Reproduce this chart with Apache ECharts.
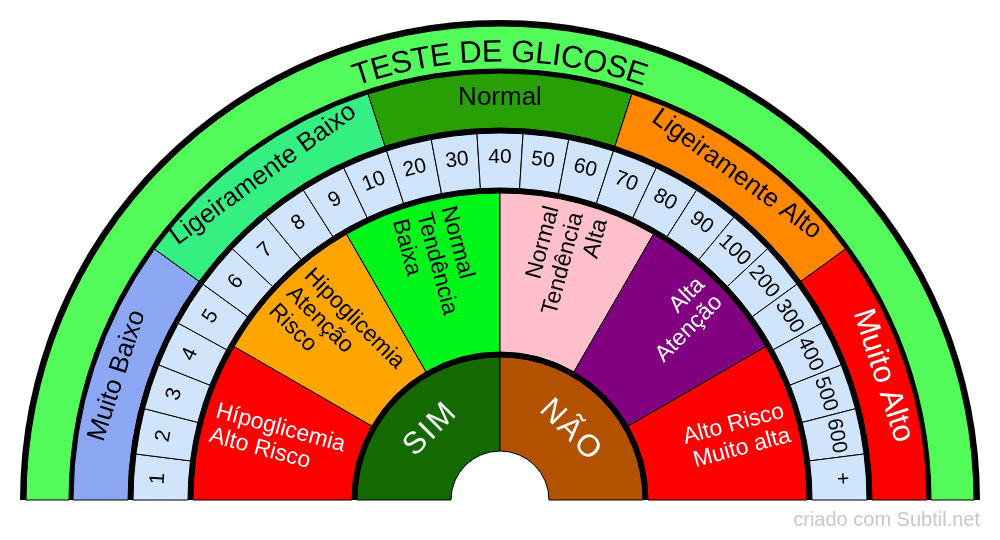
<!DOCTYPE html>
<html><head><meta charset="utf-8">
<script src="https://cdn.jsdelivr.net/npm/echarts@6/dist/echarts.min.js"></script>
<style>html,body{margin:0;padding:0;background:#fff}#chart{width:1000px;height:540px}</style>
</head><body><div id="chart"></div>
<script>
// ---- data ----
const titleText = 'TESTE DE GLICOSE';
const rangeLabels = ['Muito Baixo', 'Ligeiramente Baixo', 'Normal', 'Ligeiramente Alto', 'Muito Alto'];
const rangeSpans = [5, 5, 5, 5, 5];
const levelLabels = ['1','2','3','4','5','6','7','8','9','10','20','30','40','50','60','70','80','90','100','200','300','400','500','600','+'];
const levelValues = [1,1,1,1,1,1,1,1,1,1,1,1,1,1,1,1,1,1,1,1,1,1,1,1,1];
const riskLabels = ['Hípoglicemia\nAlto Risco', 'Hipoglicemia\nAtenção\nRisco', 'Normal\nTendência\nBaixa', 'Normal\nTendência\nAlta', 'Alta\nAtenção', 'Alto Risco\nMuito alta'];
const riskValues = [1, 1, 1, 1, 1, 1];
const answerLabels = ['SIM', 'NÃO'];
const answerValues = [1, 1];

// ---- styles ----
const FONT = '"Liberation Sans", Arial, sans-serif';
const CENTER = [500, 500];
const R_OUT = 480;
const titleColor = '#52FA5A';
const rangeColors = ['#8CA8F5', '#34F082', '#28A005', '#FF8800', '#FF0000'];
const rangeTextColors = ['#000', '#000', '#000', '#000', '#fff'];
const rangeFontSizes = [26, 26, 26, 26, 31];
const levelColor = '#D0E4FC';
const riskColors = ['#FF0000', '#FFA500', '#00F519', '#FFC0CB', '#800080', '#FF0000'];
const riskTextColors = ['#fff', '#000', '#000', '#000', '#fff', '#fff'];
const answerColors = ['#146A00', '#B25200'];

const TITLE_FONT = 31, TITLE_R = 447;
const RISK_LABEL_R = 297;

function ring(id, names, values, colors, r0, r1, label, z) {
  return {
    type: 'pie', id: id, center: CENTER, radius: [r0, r1],
    startAngle: 180, endAngle: 0, clockwise: true,
    silent: true, animation: false, z: z,
    itemStyle: { borderColor: '#000', borderWidth: 1 },
    label: label, labelLine: { show: false }, emphasis: { disabled: true },
    data: names.map((n, i) => ({
      name: n, value: values[i],
      itemStyle: { color: Array.isArray(colors) ? colors[i] : colors }
    }))
  };
}

// title characters laid along the arc
const mctx = document.createElement('canvas').getContext('2d');
mctx.font = TITLE_FONT + 'px ' + FONT;
const titleChars = titleText.split('');
const charW = titleChars.map(c => mctx.measureText(c).width);
const totalW = charW.reduce((a, b) => a + b, 0);
let acc = 0;
const titleData = titleChars.map((c, i) => {
  const s = acc + charW[i] / 2 - totalW / 2;
  acc += charW[i];
  return { name: c, value: [TITLE_R, 90 + s / TITLE_R * 180 / Math.PI] };
});

// risk label anchors
const riskTotal = riskValues.reduce((a, b) => a + b, 0);
let cum = 0;
const riskData = riskLabels.map((t, i) => {
  const mid = (cum + riskValues[i] / 2) / riskTotal * 180;
  cum += riskValues[i];
  return { name: t, value: [RISK_LABEL_R, mid] };
});

const chart = echarts.init(document.getElementById('chart'), null, { renderer: 'canvas' });
chart.setOption({
  animation: false,
  backgroundColor: '#fff',
  title: {
    text: 'criado com Subtil.net', right: 20, bottom: 10, padding: 0,
    textStyle: { color: '#c8c8c8', fontSize: 20, fontWeight: 'normal', fontFamily: FONT }
  },
  polar: { center: CENTER, radius: R_OUT },
  angleAxis: { type: 'value', min: 0, max: 360, startAngle: 180, clockwise: true, show: false },
  radiusAxis: { type: 'value', min: 0, max: R_OUT, show: false },
  series: [
    {
      type: 'pie', id: 'bg', center: CENTER, radius: [49, R_OUT],
      startAngle: 180, endAngle: 0, silent: true, animation: false, z: 1,
      label: { show: false }, labelLine: { show: false }, emphasis: { disabled: true },
      itemStyle: { color: '#000', borderWidth: 0 },
      data: [{ name: 'bg', value: 1 }]
    },
    ring('title', ['title'], [1], titleColor, 431, 474, { show: false }, 2),
    ring('range', rangeLabels, rangeSpans, rangeColors, 372, 427, {
      show: true, position: 'inside', rotate: 'tangential', fontFamily: FONT,
      formatter: p => p.name
    }, 2),
    ring('level', levelLabels, levelValues, levelColor, 312, 367, {
      show: true, position: 'inside', rotate: 'tangential', fontFamily: FONT,
      fontSize: 21, color: '#000', formatter: p => p.name
    }, 2),
    ring('risk', riskLabels, riskValues, riskColors, 148, 307, { show: false }, 2),
    ring('answer', answerLabels, answerValues, answerColors, 49, 143, {
      show: true, position: 'inside', rotate: 'tangential', fontFamily: FONT,
      fontSize: 31, color: '#fff', formatter: p => p.name.split('').join('\u200A')
    }, 2),
    {
      type: 'custom', id: 'titleText', coordinateSystem: 'polar', silent: true, z: 5,
      data: titleData,
      renderItem: (params, api) => {
        const v = api.value(1);
        const p = api.coord([api.value(0), v]);
        return {
          type: 'text', x: p[0], y: p[1], rotation: (90 - v) * Math.PI / 180,
          style: {
            text: titleChars[params.dataIndex], fill: '#000',
            fontSize: TITLE_FONT, fontFamily: FONT, align: 'center', verticalAlign: 'middle'
          }
        };
      }
    },
    {
      type: 'custom', id: 'riskText', coordinateSystem: 'polar', silent: true, z: 5,
      data: riskData,
      renderItem: (params, api) => {
        const i = params.dataIndex;
        const v = api.value(1);
        const p = api.coord([api.value(0), v]);
        const theta = 180 - v;
        const left = theta > 90;
        const rot = left ? theta - 180 : theta;
        return {
          type: 'text', x: p[0], y: p[1], rotation: rot * Math.PI / 180,
          style: {
            text: riskLabels[i], fill: riskTextColors[i],
            fontSize: 23, fontFamily: FONT, lineHeight: 25,
            align: left ? 'left' : 'right', verticalAlign: 'middle'
          }
        };
      }
    }
  ]
});
// per-item styles for range labels
chart.setOption({
  series: [{
    id: 'range',
    data: rangeLabels.map((n, i) => ({
      name: n, value: rangeSpans[i],
      itemStyle: { color: rangeColors[i] },
      label: { color: rangeTextColors[i], fontSize: rangeFontSizes[i] }
    }))
  }]
});
</script>
</body></html>
